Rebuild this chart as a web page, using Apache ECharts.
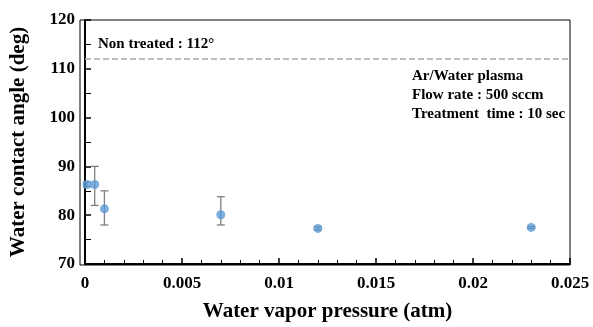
<!DOCTYPE html>
<html>
<head>
<meta charset="utf-8">
<script src="https://cdn.jsdelivr.net/npm/echarts@6/dist/echarts.min.js"></script>
<style>
  html, body { margin: 0; padding: 0; background: #fff; }
  #main { width: 593px; height: 327px; }
</style>
</head>
<body>
<div id="main"></div>
<script>
// measured values
const pressure = [0.0001, 0.0005, 0.001, 0.007, 0.012, 0.023];
const angle = [86.3, 86.3, 81.3, 80.1, 77.3, 77.5];
const errLow = [85.8, 82.0, 78.0, 78.0, 77.0, 77.3];
const errHigh = [86.8, 90.0, 85.0, 83.8, 77.6, 77.7];
const nonTreated = 112;

const font = "Liberation Serif";
const chart = echarts.init(document.getElementById("main"));

const points = pressure.map((p, i) => [p, angle[i]]);
const bars = pressure.map((p, i) => [p, errLow[i], errHigh[i]]);

const option = {
  animation: false,
  grid: { left: 80, right: 23, top: 20, bottom: 62 },
  xAxis: {
    type: "value",
    min: 0,
    max: 0.025,
    interval: 0.005,
    name: "Water vapor pressure (atm)",
    nameLocation: "middle",
    nameGap: 37,
    nameTextStyle: { fontFamily: font, fontWeight: "bold", fontSize: 21, color: "#000" },
    axisLine: { lineStyle: { color: "#000", width: 2 } },
    axisTick: { inside: true, length: 6, lineStyle: { color: "#000", width: 1.5 } },
    minorTick: { show: true, splitNumber: 5, length: 4, lineStyle: { color: "#000" } },
    axisLabel: {
      fontFamily: font, fontWeight: "bold", fontSize: 17, color: "#000", margin: 11,
      formatter: (v) => (v === 0 ? "0" : String(+v.toFixed(3)))
    },
    splitLine: { show: false }
  },
  yAxis: {
    type: "value",
    min: 70,
    max: 120,
    interval: 10,
    name: "Water contact angle (deg)",
    nameLocation: "middle",
    nameGap: 56,
    nameTextStyle: { fontFamily: font, fontWeight: "bold", fontSize: 21, color: "#000" },
    axisLine: { lineStyle: { color: "#000", width: 2 } },
    axisTick: { inside: true, length: 6, lineStyle: { color: "#000", width: 1.5 } },
    minorTick: { show: true, splitNumber: 2, length: 6, lineStyle: { color: "#000" } },
    axisLabel: { fontFamily: font, fontWeight: "bold", fontSize: 17, color: "#000", margin: 10 },
    splitLine: { show: false }
  },
  graphic: [
    {
      type: "rect",
      shape: { x: 80, y: 20, width: 490, height: 245 },
      style: { fill: "none", stroke: "#000", lineWidth: 1 },
      silent: true
    },
    {
      type: "text",
      left: 98,
      top: 37,
      style: {
        text: "Non treated : 112°",
        font: "bold 15px " + font,
        fill: "#000"
      }
    },
    {
      type: "text",
      left: 412,
      top: 67,
      style: {
        text: "Ar/Water plasma\nFlow rate : 500 sccm\nTreatment  time : 10 sec",
        font: "bold 15px " + font,
        lineHeight: 19,
        fill: "#000"
      }
    }
  ],
  series: [
    {
      type: "line",
      data: [[0, nonTreated], [0.025, nonTreated]],
      symbol: "none",
      lineStyle: { color: "#a6a6a6", width: 1.5, type: [6, 3] },
      z: 1
    },
    {
      type: "custom",
      data: bars,
      z: 2,
      renderItem: (params, api) => {
        const lo = api.coord([api.value(0), api.value(1)]);
        const hi = api.coord([api.value(0), api.value(2)]);
        const w = 4;
        const st = { stroke: "#7f7f7f", lineWidth: 1.3 };
        return {
          type: "group",
          children: [
            { type: "line", shape: { x1: lo[0], y1: lo[1], x2: hi[0], y2: hi[1] }, style: st },
            { type: "line", shape: { x1: lo[0] - w, y1: lo[1], x2: lo[0] + w, y2: lo[1] }, style: st },
            { type: "line", shape: { x1: hi[0] - w, y1: hi[1], x2: hi[0] + w, y2: hi[1] }, style: st }
          ]
        };
      }
    },
    {
      type: "scatter",
      data: points,
      symbol: "circle",
      symbolSize: 9,
      itemStyle: { color: "#5b9bd5" },
      z: 3
    }
  ]
};

chart.setOption(option);
</script>
</body>
</html>
